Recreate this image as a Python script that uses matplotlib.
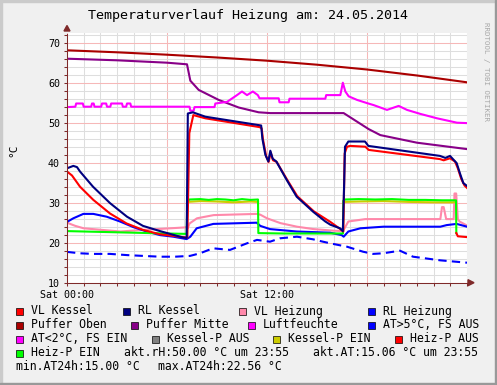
import matplotlib
matplotlib.use("Agg")
import matplotlib.pyplot as plt
from matplotlib.patches import Rectangle, Polygon
from matplotlib.ticker import MultipleLocator, FixedLocator

# ---- data (hours of the day -> degC) ----
puffer_oben_h = [0, 3, 6, 9, 12, 15, 18, 21, 24]
puffer_oben = [68.1, 67.6, 67.0, 66.3, 65.5, 64.5, 63.3, 61.8, 60.1]

puffer_mitte_h = [0, 3, 6, 7.2, 7.4, 7.9, 9.1, 10.3, 11.5, 12.2, 16.6, 17.5, 18.1, 18.8, 21, 24]
puffer_mitte = [66.0, 65.6, 65.0, 64.6, 60.5, 58.2, 55.7, 53.8, 52.6, 52.4, 52.4, 50.0, 48.4, 46.9, 45.0, 43.4]

luft_h = [0, 0.5, 0.55, 0.95, 1.0, 1.45, 1.5, 1.6, 1.65, 2.05, 2.1, 2.35, 2.4, 2.6, 2.65, 3.3, 3.35,
          3.55, 3.6, 3.8, 3.85, 7.35, 7.4, 7.6, 7.65, 8.85, 8.9, 9.6, 10.2, 10.5, 10.8, 11.15, 11.45,
          11.55, 12.7, 12.75, 13.3, 13.35, 15.5, 15.55, 16.4, 16.55, 16.7, 16.9, 17.4, 18.0, 18.4,
          19.2, 19.9, 20.4, 21.2, 22.2, 23.4, 24]
luft = [53.9, 54.0, 54.8, 54.8, 54.0, 54.0, 54.8, 54.8, 54.0, 54.0, 54.8, 54.8, 54.0, 54.0, 54.8, 54.8, 54.0,
        54.0, 54.8, 54.8, 54.0, 54.0, 53.0, 53.0, 53.9, 53.9, 54.8, 55.2, 56.9, 57.8, 56.9, 57.8, 56.9,
        56.1, 56.1, 55.1, 55.1, 56.0, 56.0, 56.9, 56.9, 60.0, 57.8, 56.6, 55.7, 54.9, 54.4,
        53.2, 54.2, 53.2, 52.2, 51.1, 50.0, 49.9]

rl_kessel_h = [0, 0.38, 0.6, 0.78, 1.56, 2.58, 3.6, 4.56, 5.58, 6.96, 7.18, 7.25, 7.55, 8.3, 11.5, 11.65,
               11.72, 11.9, 12.08, 12.2, 12.34, 12.56, 13.18, 13.78, 14.78, 15.5, 15.8, 16.38, 16.55,
               16.63, 16.68, 16.88, 17.88, 18.08, 22.38, 22.7, 22.98, 23.38, 23.58, 23.78, 24]
rl_kessel = [38.6, 39.2, 38.9, 37.8, 34.0, 29.9, 26.5, 24.2, 22.9, 21.3, 21.2, 52.3, 52.6, 51.5, 49.4, 49.3,
             46.1, 42.0, 40.3, 43.0, 41.0, 40.3, 35.7, 31.5, 27.7, 25.3, 24.5, 23.6, 22.9,
             34.9, 44.0, 45.3, 45.3, 44.2, 41.7, 41.2, 41.7, 39.9, 37.3, 34.9, 34.2]

vl_kessel_h = [0, 0.3, 0.78, 1.58, 2.58, 3.58, 4.56, 5.58, 6.96, 7.22, 7.34, 7.58, 8.3, 11.55, 11.68,
               11.76, 11.95, 12.1, 12.22, 12.36, 12.58, 13.2, 13.82, 14.82, 15.8, 16.4, 16.58,
               16.66, 16.8, 17.0, 17.9, 18.1, 22.38, 22.6, 22.98, 23.28, 23.45, 23.65, 23.85, 24]
vl_kessel = [37.8, 36.8, 34.0, 30.7, 27.3, 24.8, 23.2, 22.1, 21.4, 21.3, 47.4, 51.9, 51.1, 48.9, 48.6,
             45.8, 41.6, 40.2, 42.6, 40.6, 40.2, 35.8, 31.6, 27.8, 25.2, 23.4, 22.8,
             42.3, 44.0, 44.2, 44.0, 43.2, 40.9, 40.6, 41.1, 40.3, 38.6, 36.0, 34.3, 33.7]

vl_heizung_h = [0, 0.5, 1.0, 3.2, 4.56, 6.2, 7.0, 7.2, 7.25, 7.35, 7.8, 8.8, 11.4, 11.6, 12.0, 12.8,
                13.8, 14.8, 16.0, 16.55, 16.6, 16.88, 17.9, 22.4, 22.5, 22.6, 22.75, 22.8, 23.2,
                23.25, 23.35, 23.45, 23.55, 24]
vl_heizung = [25.0, 24.2, 23.6, 22.8, 23.2, 23.6, 23.8, 23.9, 23.6, 24.8, 26.1, 26.9, 27.2, 27.0, 26.1,
              24.9, 24.0, 23.4, 23.0, 22.9, 23.2, 25.3, 25.9, 25.9, 28.9, 28.9, 25.9, 25.9, 25.9,
              32.3, 32.3, 25.9, 25.3, 24.3]

rl_heizung_h = [0, 0.38, 0.98, 1.58, 2.38, 3.18, 3.98, 4.78, 5.58, 6.38, 7.18, 7.4, 7.78, 8.78,
                11.38, 11.6, 12.18, 13.78, 15.78, 16.48, 16.6, 16.88, 17.6, 18.98, 22.4, 22.78,
                23.38, 24]
rl_heizung = [25.2, 26.1, 27.2, 27.2, 26.5, 25.3, 23.9, 22.8, 21.9, 21.5, 20.9, 21.5, 23.6, 24.7,
              25.0, 24.2, 23.4, 22.8, 22.5, 21.9, 21.5, 22.8, 23.6, 24.0, 24.0, 24.4, 24.7, 24.0]

heizp_h = [0, 2, 4, 6, 7.18, 7.22, 7.35, 8.0, 8.5, 9.0, 9.5, 10.0, 10.5, 11.0, 11.46, 11.48,
           13.0, 15.0, 16.56, 16.58, 16.7, 17.5, 18.5, 19.5, 20.5, 21.5, 22.5, 23.34, 23.36]
heizp = [22.9, 22.7, 22.5, 22.3, 22.2, 30.4, 30.8, 30.9, 30.7, 30.9, 30.8, 30.6, 30.9, 30.7, 30.8, 22.4,
         22.3, 22.3, 22.3, 30.5, 30.8, 30.9, 30.8, 30.9, 30.7, 30.7, 30.6, 30.6, 22.4]
heizp_aus_h = [23.36, 23.45, 24]
heizp_aus = [22.4, 21.6, 21.4]

kesselp_h = [[7.24, 8.0, 9.0, 10.0, 11.0, 11.46], [16.6, 17.5, 19.0, 20.5, 22.0, 23.34]]
kesselp = [[30.2, 30.4, 30.3, 30.1, 30.3, 30.2], [30.2, 30.3, 30.4, 30.2, 30.1, 30.1]]

at_h = [0, 0.78, 1.56, 2.58, 3.6, 4.56, 5.58, 6.48, 7.38, 7.98, 8.76, 9.78, 10.8, 11.4, 12.18,
        12.78, 13.8, 14.76, 15.36, 15.96, 16.8, 17.76, 18.36, 18.96, 19.98, 20.76, 22.38, 24]
at = [17.7, 17.35, 17.2, 17.2, 16.9, 16.7, 16.5, 16.5, 16.7, 17.35, 18.6, 18.2, 19.85, 20.7, 20.25,
      21.1, 21.5, 20.85, 20.25, 19.7, 19.0, 17.75, 17.2, 17.35, 18.0, 16.5, 15.6, 15.0]

legend_rows = [
    [("VL Kessel", "#FF0000"), ("RL Kessel", "#000080"), ("VL Heizung", "#FF88AA"), ("RL Heizung", "#0000FF")],
    [("Puffer Oben", "#AA0000"), ("Puffer Mitte", "#880088"), ("Luftfeuchte", "#FF00FF"), ("AT>5°C, FS AUS", "#0000FF")],
    [("AT<2°C, FS EIN", "#FF00FF"), ("Kessel-P AUS", "#808080"), ("Kessel-P EIN", "#CCCC00"), ("Heiz-P AUS", "#FF0000")],
    [("Heiz-P EIN", "#00FF00")],
]
legend_x = [[16, 123, 239, 368], [16, 131, 248, 368], [16, 152, 273, 395], [16]]
info_texts = [("akt.rH:50.00 °C um 23:55", 124, 353), ("akt.AT:15.06 °C um 23:55", 313, 353),
              ("min.AT24h:15.00 °C", 16, 367), ("max.AT24h:22.56 °C", 158, 367)]

W, H = 497, 385
MONO = "DejaVu Sans Mono"
AXC = "#7F2A2A"

def fx(x):
    return x / W

def fy(y):
    return 1 - y / H

fig = plt.figure(figsize=(W / 100, H / 100), dpi=100, facecolor="#F0F0F0")
ax = fig.add_axes([fx(67), fy(282.7), 400 / W, 250 / H])
ax.set_facecolor("white")
ax.set_xlim(0, 24)
ax.set_ylim(10, 72.5)
for s in ax.spines.values():
    s.set_visible(False)

ax.xaxis.set_major_locator(FixedLocator([0, 6, 12, 18]))
ax.xaxis.set_minor_locator(MultipleLocator(1))
ax.set_xticklabels(["Sat 00:00", "", "Sat 12:00", ""])
ax.yaxis.set_major_locator(FixedLocator([10, 20, 30, 40, 50, 60, 70]))
ax.yaxis.set_minor_locator(MultipleLocator(2))
ax.grid(which="minor", color="#DEDEDE", lw=0.75)
ax.grid(which="major", color="#F6B8B8", lw=0.75)
ax.set_axisbelow(True)
ax.tick_params(which="both", direction="out", length=2, width=0.75, color=AXC,
               labelsize=7.2, pad=3)
for lab in ax.get_xticklabels() + ax.get_yticklabels():
    lab.set_family(MONO)

lw = 1.5
ax.plot(puffer_oben_h, puffer_oben, color="#AA0000", lw=lw)
ax.plot(puffer_mitte_h, puffer_mitte, color="#880088", lw=lw)
ax.plot(luft_h, luft, color="#FF00FF", lw=lw)
ax.plot(at_h, at, color="#0000FF", lw=lw, ls=(0, (4, 2.5)))
ax.plot(vl_heizung_h, vl_heizung, color="#FF88AA", lw=lw)
ax.plot(rl_heizung_h, rl_heizung, color="#0000FF", lw=lw)
for kh, kv in zip(kesselp_h, kesselp):
    ax.plot(kh, kv, color="#CCCC00", lw=lw)
ax.plot(heizp_h, heizp, color="#00FF00", lw=lw)
ax.plot(heizp_aus_h, heizp_aus, color="#FF0000", lw=lw)
ax.plot(vl_kessel_h, vl_kessel, color="#FF0000", lw=lw)
ax.plot(rl_kessel_h, rl_kessel, color="#000080", lw=lw)

# axes with arrows
ax.plot([0, 0], [10, 72.2], color=AXC, lw=0.75, clip_on=False)
ax.plot([0, 24.2], [10, 10], color=AXC, lw=0.75, clip_on=False)
fig.patches.append(Polygon([(fx(64), fy(31)), (fx(70), fy(31)), (fx(67), fy(25.5))],
                           closed=True, color=AXC, transform=fig.transFigure))
fig.patches.append(Polygon([(fx(468), fy(279.7)), (fx(468), fy(285.7)), (fx(474), fy(282.7))],
                           closed=True, color=AXC, transform=fig.transFigure))

fig.text(fx(248), fy(16), "Temperaturverlauf Heizung am: 24.05.2014", family=MONO,
         fontsize=9.6, ha="center", va="center")
fig.text(fx(13), fy(150), "°C", family=MONO, fontsize=8, rotation=90, ha="center", va="center")
fig.text(fx(486), fy(22), "RRDTOOL / TOBI OETIKER", family=MONO, fontsize=5.4,
         rotation=270, ha="center", va="top", color="#A8A8A8")

row_y = [311, 325, 339, 353, 367]
for r, items in enumerate(legend_rows):
    for (label, col), x in zip(items, legend_x[r]):
        fig.patches.append(Rectangle((fx(x), fy(row_y[r] + 3.5)), 7 / W, 7 / H, facecolor=col,
                                     edgecolor="#000000", lw=0.5, transform=fig.transFigure))
        fig.text(fx(x + 15), fy(row_y[r]), label, family=MONO, fontsize=8.3, va="center")
for txt, x, y in info_texts:
    fig.text(fx(x), fy(y), txt, family=MONO, fontsize=8.3, va="center")

# 3d frame like rrdtool
fig.patches.append(Rectangle((0, fy(2)), 1, 2 / H, color="#CBCBCB", transform=fig.transFigure))
fig.patches.append(Rectangle((0, 0), 2 / W, 1, color="#CBCBCB", transform=fig.transFigure))
fig.patches.append(Rectangle((0, 0), 1, 2 / H, color="#999999", transform=fig.transFigure))
fig.patches.append(Rectangle((fx(495), 0), 2 / W, 1, color="#999999", transform=fig.transFigure))

fig.savefig("out.png", dpi=100, facecolor=fig.get_facecolor())
